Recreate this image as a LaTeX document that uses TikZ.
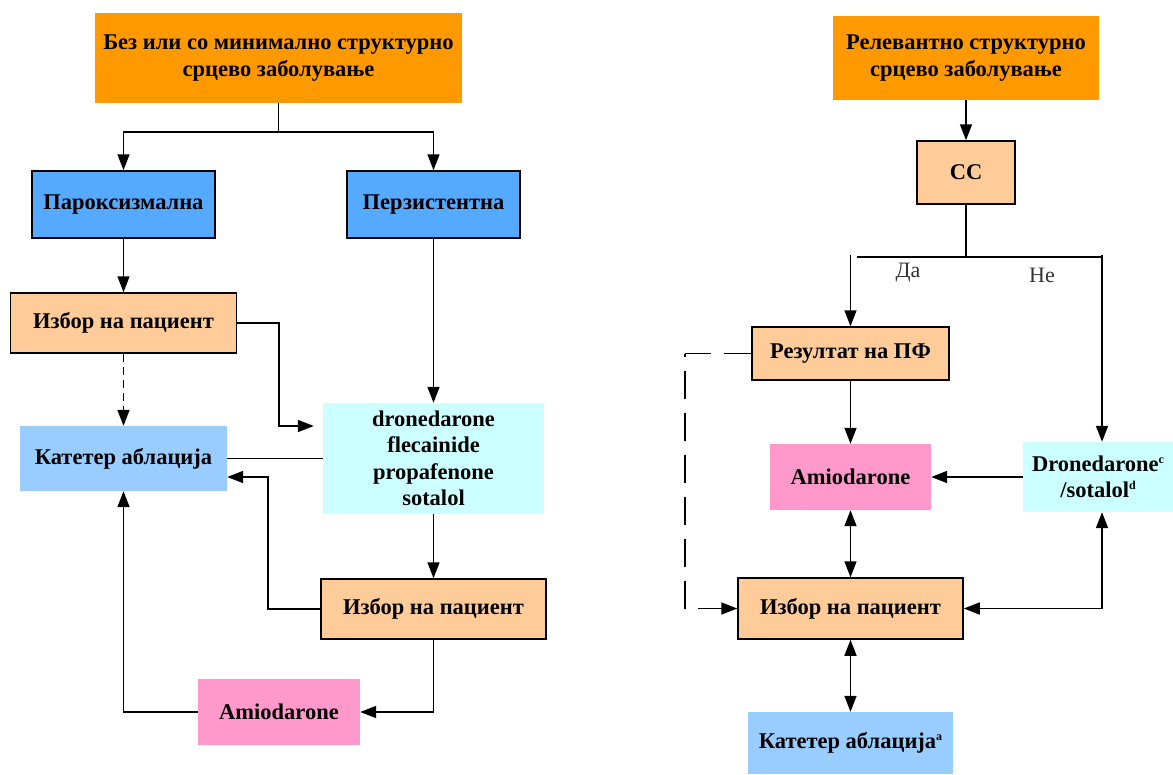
\documentclass[tikz,border=0pt]{standalone}
\usepackage{fontspec}
\setmainfont{Liberation Serif}
\usetikzlibrary{arrows.meta}
\definecolor{deeporange}{HTML}{FF9900}
\definecolor{midblue}{HTML}{55AAFF}
\definecolor{peach}{HTML}{FFCC99}
\definecolor{paleblue}{HTML}{99CCFF}
\definecolor{palecyan}{HTML}{CCFFFF}
\definecolor{pinkbox}{HTML}{FF99CC}
% small raised note letter
\newcommand{\notemark}[1]{\raisebox{8pt}{\fontsize{12}{12}\selectfont #1}}
\begin{document}
\begin{tikzpicture}[x=1pt,y=-1pt,
  txt/.style={font=\bfseries\fontsize{22.5}{26.5}\selectfont, align=center, inner sep=0pt},
  framed/.style={txt, draw=black, line width=1.5pt},
  conn/.style={line width=1.6pt},
  arr/.style={conn, -{Triangle[length=16pt,width=12pt]}},
  darr/.style={conn, {Triangle[length=16pt,width=12pt]}-{Triangle[length=16pt,width=12pt]}},
  lbl/.style={font=\fontsize{22}{26}\selectfont, text=black!80, inner sep=0pt}
]
\useasboundingbox (0,0) rectangle (1173,774);

% ---------- left branch ----------
\node[txt, fill=deeporange, minimum width=367pt, minimum height=90pt] (top1) at (278.5,58)
  {Без или со минимално структурно\\срцево заболување};
\node[framed, fill=midblue, minimum width=183pt, minimum height=67pt] (parok) at (123.5,204.5) {Пароксизмална};
\node[framed, fill=midblue, minimum width=173pt, minimum height=67pt] (perz) at (433.5,204.5) {Перзистентна};
\node[framed, fill=peach, minimum width=226pt, minimum height=60pt] (izbor1) at (123.5,323) {Избор на пациент};
\node[txt, fill=paleblue, minimum width=207pt, minimum height=65pt] (kat1) at (123.5,458.5) {Катетер аблација};
\node[txt, fill=palecyan, minimum width=221pt, minimum height=111pt] (drone1) at (433.5,458.5)
  {dronedarone\\flecainide\\propafenone\\sotalol};
\node[framed, fill=peach, minimum width=225pt, minimum height=60pt] (izbor2) at (433.5,609) {Избор на пациент};
\node[txt, fill=pinkbox, minimum width=162pt, minimum height=66pt] (amio1) at (279,712) {Amiodarone};

\coordinate (j1) at (278.5,132);
\draw[conn] (top1.south) -- (j1);
\draw[arr] (j1) -| (parok.north);
\draw[arr] (j1) -| (perz.north);
\draw[arr] (parok.south) -- (izbor1.north);
\draw[arr, dash pattern=on 8pt off 5pt] (izbor1.south) -- (kat1.north);
\coordinate (k1) at (279,426);
\draw[arr, shorten >=9pt] (izbor1.east) -| (k1) -- (k1 -| drone1.west);
\draw[arr] (perz.south) -- (drone1.north);
\draw[conn] (drone1.west) -- (kat1.east);
\draw[arr] (drone1.south) -- (izbor2.north);
\coordinate (k2) at (268,477);
\draw[arr] (izbor2.west) -| (k2) -- (k2 -| kat1.east);
\draw[arr] (izbor2.south) |- (amio1.east);
\draw[arr] (amio1.west) -| (kat1.south);

% ---------- right branch ----------
\node[txt, fill=deeporange, minimum width=266pt, minimum height=84pt] (top2) at (966,58)
  {Релевантно структурно\\срцево заболување};
\node[framed, fill=peach, minimum width=98pt, minimum height=63pt] (cc) at (966,172.5) {СС};
\node[framed, fill=peach, minimum width=197pt, minimum height=53pt] (rez) at (850.5,353.5) {Резултат на ПФ};
\node[txt, fill=pinkbox, minimum width=161pt, minimum height=66pt] (amio2) at (850.5,477) {Amiodarone};
\node[txt, fill=palecyan, minimum width=150pt, minimum height=70pt] (dron2) at (1098,477)
  {Dronedarone\notemark{c}\\/sotalol\notemark{d}};
\node[framed, fill=peach, minimum width=225pt, minimum height=61pt] (izbor3) at (850.5,608.5) {Избор на пациент};
\node[txt, fill=paleblue, minimum width=205pt, minimum height=62pt] (kat2) at (850.5,743) {Катетер аблација\notemark{a}};

\draw[arr] (top2.south) -- (cc.north);
\coordinate (j2) at (966,257);
\draw[conn] (cc.south) -- (j2);
\coordinate (ya) at (850.5,255);
\coordinate (yb) at (857,257);
\coordinate (ne) at (1102,255);
\draw[conn] (yb) -- (ne |- yb);
\draw[arr] (ya) -- (rez.north);
\draw[arr] (ne) -- (ne |- dron2.north);
\node[lbl] (da) at (908,273) {Да};
\node[lbl] (nelbl) at (1042,275) {Не};

\draw[arr] (rez.south) -- (amio2.north);
\draw[arr] (dron2.west) -- (amio2.east);
\draw[darr] (amio2.south) -- (izbor3.north);
\draw[darr] (izbor3.south) -- (kat2.north);
\coordinate (k3) at (1102,608.5);
\draw[darr] (izbor3.east) -- (k3) -- (k3 |- dron2.south);
% dashed return path from the result box to patient selection
\coordinate (d1) at (685,353.5);
\coordinate (d2) at (685,608.5);
\coordinate (d3) at (698,608.5);
\draw[conn, line width=1.4pt, dash pattern=on 27pt off 13pt] (rez.west) -- (d1);
\draw[conn, line width=1.4pt, dash pattern=on 28pt off 14pt, dash phase=25pt] (d1) -- (d2);
\draw[arr] (d3) -- (izbor3.west);
\end{tikzpicture}
\end{document}
